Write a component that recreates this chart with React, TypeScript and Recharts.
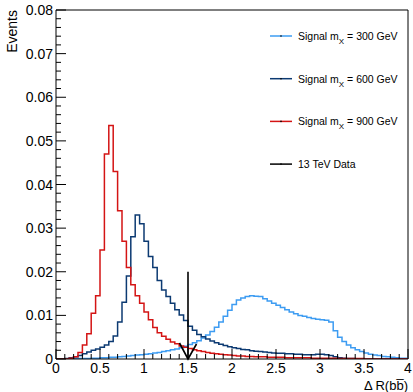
import React from 'react';
import { ComposedChart, Line, XAxis, YAxis, ReferenceLine } from 'recharts';

// bin contents, bins of 0.05 from 0 to 4
const signal300 = [
  0, 0, 0, 0, 0.0001, 0.0001, 0.0001, 0.0001, 0.0002, 0.0002,
  0.0003, 0.0003, 0.0004, 0.0004, 0.0005, 0.0006, 0.0007, 0.0008, 0.0009, 0.001,
  0.0011, 0.0012, 0.0014, 0.0015, 0.0017, 0.0019, 0.0021, 0.0023, 0.0026, 0.0029,
  0.0033, 0.0037, 0.0042, 0.0048, 0.0055, 0.0063, 0.0073, 0.0085, 0.0098, 0.0112,
  0.0125, 0.0135, 0.014, 0.0143, 0.0145, 0.0144, 0.0143, 0.0138, 0.0133, 0.0128,
  0.0123, 0.0118, 0.0113, 0.0108, 0.0104, 0.01, 0.0098, 0.0095, 0.0093, 0.0091,
  0.009, 0.0089, 0.0085, 0.0065, 0.005, 0.004, 0.0032, 0.0026, 0.0021, 0.0017,
  0.0014, 0.0011, 0.0009, 0.0008, 0.0006, 0.0005, 0.0004, 0.0003, 0.0002, 0.0002,
];
const signal600 = [
  0, 0, 0.0001, 0.0003, 0.0005, 0.0008, 0.0012, 0.0016, 0.002, 0.0023,
  0.0027, 0.0032, 0.004, 0.0053, 0.0085, 0.013, 0.019, 0.028, 0.033, 0.031,
  0.027, 0.0235, 0.021, 0.018, 0.0158, 0.0143, 0.0128, 0.0113, 0.0101, 0.0088,
  0.0075, 0.0066, 0.0056, 0.0051, 0.0046, 0.0041, 0.0037, 0.0034, 0.0031, 0.0028,
  0.0026, 0.0024, 0.0022, 0.0021, 0.0019, 0.0018, 0.0017, 0.0016, 0.0015, 0.0014,
  0.0013, 0.0013, 0.0012, 0.0012, 0.0011, 0.0011, 0.001, 0.001, 0.001, 0.0011,
  0.0011, 0.001, 0.0008, 0.0005, 0.0003, 0.0002, 0.0001, 0.0001, 0, 0,
  0, 0, 0, 0, 0, 0, 0, 0, 0, 0,
];
const signal900 = [
  0, 0, 0, 0.0002, 0.0005, 0.0015, 0.0032, 0.0058, 0.0105, 0.0145,
  0.025, 0.047, 0.0535, 0.043, 0.034, 0.027, 0.021, 0.017, 0.0145, 0.0128,
  0.0108, 0.009, 0.0072, 0.006, 0.0052, 0.0045, 0.0039, 0.0035, 0.003, 0.0027,
  0.0024, 0.0021, 0.0019, 0.0017, 0.0015, 0.0013, 0.0012, 0.0011, 0.001, 0.0009,
  0.0008, 0.0007, 0.0007, 0.0006, 0.0006, 0.0005, 0.0005, 0.0005, 0.0004, 0.0004,
  0.0004, 0.0004, 0.0003, 0.0003, 0.0003, 0.0003, 0.0003, 0.0003, 0.0002, 0.0002,
  0.0002, 0.0002, 0.0002, 0.0002, 0.0001, 0.0001, 0.0001, 0.0001, 0.0001, 0.0001,
  0, 0, 0, 0, 0, 0, 0, 0, 0, 0,
];

const binWidth = 0.05;
const dataCut = { x: 1.5, y: 0.02 };

const xMajor = [0, 0.5, 1, 1.5, 2, 2.5, 3, 3.5, 4];
const yMajor = [0, 0.01, 0.02, 0.03, 0.04, 0.05, 0.06, 0.07, 0.08];
const xTicks = Array.from({ length: 41 }, (_, i) => +(i * 0.1).toFixed(2));
const yTicks = Array.from({ length: 41 }, (_, i) => +(i * 0.002).toFixed(4));

const legendItems = [
  { name: 'Signal m', sub: 'X', rest: ' = 300 GeV', color: '#3d9cf2' },
  { name: 'Signal m', sub: 'X', rest: ' = 600 GeV', color: '#0c3a72' },
  { name: 'Signal m', sub: 'X', rest: ' = 900 GeV', color: '#d41414' },
  { name: '13 TeV Data', sub: '', rest: '', color: '#000000' },
];

const rows = Array.from({ length: signal300.length + 1 }, (_, i) => {
  const k = Math.min(i, signal300.length - 1);
  return {
    x: +(i * binWidth).toFixed(2),
    s300: signal300[k],
    s600: signal600[k],
    s900: signal900[k],
  };
});

const FONT = '"Liberation Sans", Arial, Helvetica, sans-serif';

const isMajor = (v: number, list: number[]) => list.some((m) => Math.abs(m - v) < 1e-6);

function XTick(props: any) {
  const { x, y, payload } = props;
  const major = isMajor(payload.value, xMajor);
  return (
    <g>
      <line x1={x} y1={y} x2={x} y2={y - (major ? 10 : 5)} stroke="#000" strokeWidth={1} />
      {major && (
        <text x={x} y={y + 14} textAnchor="middle" fontSize={14} fontFamily={FONT} fill="#000">
          {String(payload.value)}
        </text>
      )}
    </g>
  );
}

function YTick(props: any) {
  const { x, y, payload } = props;
  const major = isMajor(payload.value, yMajor);
  return (
    <g>
      <line x1={x} y1={y} x2={x + (major ? 10 : 5)} y2={y} stroke="#000" strokeWidth={1} />
      {major && (
        <text x={x - 3} y={y + 5} textAnchor="end" fontSize={14} fontFamily={FONT} fill="#000">
          {payload.value === 0 ? '0' : payload.value.toFixed(2)}
        </text>
      )}
    </g>
  );
}

function Arrow(props: any) {
  const { x1, y1, x2, y2 } = props;
  const top = Math.min(y1, y2);
  const bot = Math.max(y1, y2);
  return (
    <g stroke="#000" strokeWidth={1.6} fill="none">
      <line x1={x1} y1={top} x2={x2} y2={bot} />
      <polyline points={`${x2 - 8.5},${bot - 16} ${x2},${bot} ${x2 + 8.5},${bot - 15}`} />
    </g>
  );
}

export default function App() {
  return (
    <div style={{ position: 'absolute', left: 0, top: 0, width: 413, height: 392, background: '#fff' }}>
      <ComposedChart width={413} height={392} data={rows} margin={{ top: 10, right: 5, left: 0, bottom: 0 }}>
        <XAxis
          dataKey="x"
          type="number"
          domain={[0, 4]}
          ticks={xTicks}
          interval={0}
          height={33}
          tickSize={0}
          tickMargin={0}
          tickLine={false}
          tick={<XTick />}
          axisLine={{ stroke: '#000', strokeWidth: 1 }}
          allowDataOverflow
        />
        <YAxis
          type="number"
          domain={[0, 0.08]}
          ticks={yTicks}
          interval={0}
          width={56}
          tickSize={0}
          tickMargin={0}
          tickLine={false}
          tick={<YTick />}
          axisLine={{ stroke: '#000', strokeWidth: 1 }}
          allowDataOverflow
        />
        <ReferenceLine y={0.08} stroke="#000" strokeWidth={1} />
        <ReferenceLine x={4} stroke="#000" strokeWidth={1} />
        <Line type="stepAfter" dataKey="s300" stroke={legendItems[0].color} strokeWidth={1.5} dot={false} isAnimationActive={false} />
        <Line type="stepAfter" dataKey="s600" stroke={legendItems[1].color} strokeWidth={1.5} dot={false} isAnimationActive={false} />
        <Line type="stepAfter" dataKey="s900" stroke={legendItems[2].color} strokeWidth={1.5} dot={false} isAnimationActive={false} />
        <ReferenceLine
          segment={[{ x: dataCut.x, y: dataCut.y }, { x: dataCut.x, y: 0 }]}
          shape={<Arrow />}
          ifOverflow="visible"
        />
      </ComposedChart>
      <svg width={413} height={392} style={{ position: 'absolute', left: 0, top: 0, pointerEvents: 'none' }}>
        <text transform="translate(17,10) rotate(-90)" textAnchor="end" fontSize={14} fontFamily={FONT} fill="#000">
          Events
        </text>
        <text x={408} y={390} textAnchor="end" fontSize={13} fontFamily={FONT} fill="#000">
          {'Δ R(bb\u0305)'}
        </text>
        {legendItems.map((it, i) => {
          const y = 36 + i * 42.7;
          return (
            <g key={i}>
              <line x1={270} y1={y} x2={292} y2={y} stroke={it.color} strokeWidth={1.5} />
              <circle cx={281} cy={y} r={0.8} fill="#000" />
              <text x={298} y={y + 4} fontSize={10.5} fontFamily={FONT} fill="#000">
                {it.name}
                {it.sub && (
                  <tspan dy={4} fontSize={8}>
                    {it.sub}
                  </tspan>
                )}
                {it.rest && <tspan dy={-4}>{it.rest}</tspan>}
              </text>
            </g>
          );
        })}
      </svg>
    </div>
  );
}
